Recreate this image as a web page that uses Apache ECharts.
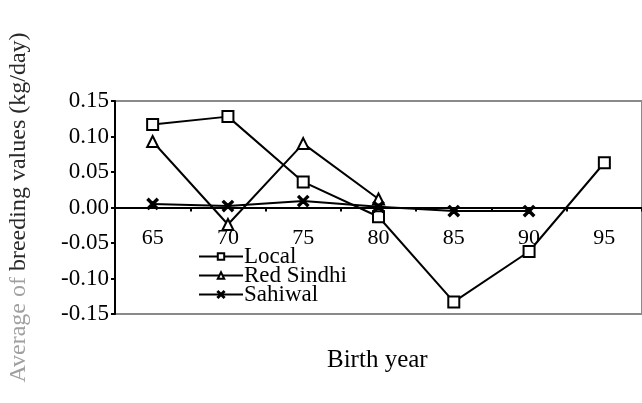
<!DOCTYPE html>
<html>
<head>
<meta charset="utf-8">
<script src="https://cdn.jsdelivr.net/npm/echarts@6/dist/echarts.min.js"></script>
<style>
html,body{margin:0;padding:0;background:#fff;}
#chart{width:642px;height:403px;}
</style>
</head>
<body>
<div id="chart"></div>
<script>
var categories = ['65', '70', '75', '80', '85', '90', '95'];
var localValues = [0.117, 0.128, 0.036, -0.013, -0.133, -0.062, 0.063];
var redSindhiValues = [0.093, -0.024, 0.090, 0.012, null, null, null];
var sahiwalValues = [0.005, 0.002, 0.009, 0.001, -0.005, -0.005, null];
var yTicks = { min: -0.15, max: 0.15, interval: 0.05 };

var FONT = '"Liberation Serif", "Times New Roman", serif';
var crossPath = 'path://M0,1 L1,0 L5,4 L9,0 L10,1 L6,5 L10,9 L9,10 L5,6 L1,10 L0,9 L4,5 Z';

var chart = echarts.init(document.getElementById('chart'), null, { renderer: 'canvas' });

function mkSeries(name, data, symbol, size) {
  return {
    name: name,
    type: 'line',
    data: data,
    symbol: symbol,
    symbolSize: size,
    showAllSymbol: true,
    connectNulls: false,
    lineStyle: { color: '#000', width: 2 },
    itemStyle: { color: '#000', borderColor: '#000', borderWidth: 2 },
    emphasis: { disabled: true },
    z: 3
  };
}

var gridTop = 101, gridHeight = 213;
var zeroOffset = gridHeight * (yTicks.min / (yTicks.max - yTicks.min)); // negative: moves axis up to y=0

var option = {
  animation: false,
  backgroundColor: '#fff',
  title: {
    text: 'Birth year',
    left: 322,
    top: 343,
    textStyle: { fontFamily: FONT, fontSize: 25, fontWeight: 'normal', color: '#000' }
  },
  legend: {
    orient: 'vertical',
    left: 193,
    top: 240,
    itemGap: -4,
    itemWidth: 44,
    itemHeight: 8,
    textStyle: { fontFamily: FONT, fontSize: 23, color: '#000', padding: [0, 0, 0, -4] },
    data: ['Local', 'Red Sindhi', 'Sahiwal']
  },
  grid: {
    left: 115,
    right: 0,
    top: gridTop,
    height: gridHeight,
    containLabel: false,
    outerBoundsMode: 'none',
    show: true,
    borderColor: '#8a8a8a',
    borderWidth: 2,
    backgroundColor: 'transparent'
  },
  xAxis: {
    type: 'category',
    data: categories,
    boundaryGap: true,
    position: 'bottom',
    offset: zeroOffset,
    axisLine: { onZero: false, lineStyle: { color: '#000', width: 2 } },
    axisTick: { show: true, inside: false, length: 4, lineStyle: { color: '#000', width: 2 } },
    axisLabel: { fontFamily: FONT, fontSize: 22, color: '#000', margin: 20 },
    splitLine: { show: false }
  },
  yAxis: {
    type: 'value',
    min: yTicks.min,
    max: yTicks.max,
    interval: yTicks.interval,
    name: '{g|Average of }{d|breeding values (kg/day)}',
    nameLocation: 'middle',
    nameGap: 84,
    nameTextStyle: {
      fontFamily: FONT,
      fontSize: 24,
      rich: {
        g: { fontFamily: FONT, fontSize: 24, color: '#a0a0a0' },
        d: { fontFamily: FONT, fontSize: 24, color: '#2a2a2a' }
      }
    },
    axisLine: { show: true, lineStyle: { color: '#000', width: 2 } },
    axisTick: { show: true, length: 4, lineStyle: { color: '#000', width: 2 } },
    axisLabel: {
      fontFamily: FONT, fontSize: 23, color: '#000', margin: 6,
      formatter: function (v) { return v.toFixed(2); }
    },
    splitLine: { show: false }
  },
  series: [
    mkSeries('Local', localValues, 'emptyRect', 11),
    mkSeries('Red Sindhi', redSindhiValues, 'emptyTriangle', 11),
    mkSeries('Sahiwal', sahiwalValues, crossPath, 10)
  ]
};
chart.setOption(option);
</script>
</body>
</html>
